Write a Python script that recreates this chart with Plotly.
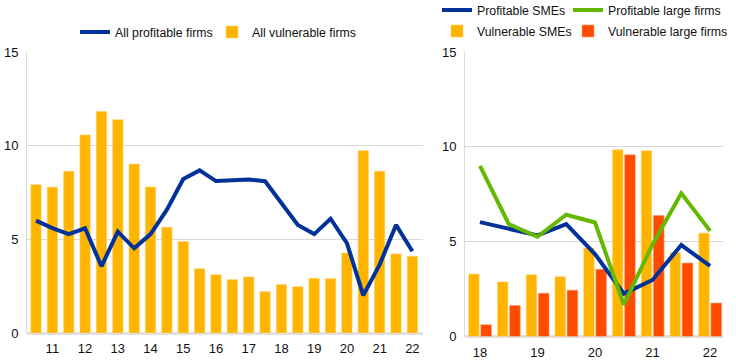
import plotly.graph_objects as go

# ---------------- data ----------------
left_tick_labels = ["11", "12", "13", "14", "15", "16", "17", "18", "19", "20", "21", "22"]
all_vulnerable = [7.92, 7.78, 8.63, 10.57, 11.83, 11.39, 9.02, 7.79, 5.64, 4.88, 3.43, 3.11,
                  2.85, 2.99, 2.21, 2.58, 2.47, 2.92, 2.90, 4.27, 9.73, 8.63, 4.22, 4.09]
all_profitable = [6.0, 5.6, 5.28, 5.59, 3.56, 5.41, 4.52, 5.28, 6.58, 8.22, 8.68, 8.11,
                  8.15, 8.2, 8.1, 6.94, 5.77, 5.28, 6.1, 4.8, 2.01, 3.65, 5.77, 4.36]

right_tick_labels = ["18", "19", "20", "21", "22"]
vulnerable_smes = [3.29, 2.88, 3.25, 3.15, 4.66, 9.84, 9.79, 4.43, 5.45]
vulnerable_large = [0.62, 1.63, 2.28, 2.44, 3.55, 9.58, 6.38, 3.87, 1.76]
profitable_smes = [6.03, 5.7, 5.33, 5.93, 4.35, 2.26, 2.98, 4.82, 3.72]
profitable_large = [9.0, 5.93, 5.26, 6.42, 6.01, 1.68, 4.85, 7.55, 5.57]

# ---------------- style ----------------
BLUE = "#003299"
YELLOW = "#FFB400"
RED = "#FF4B00"
GREEN = "#65B800"
FONT = "Arial, Liberation Sans, sans-serif"
W, H = 736, 363

left_x = list(range(1, len(all_vulnerable) + 1))
left_ticks = left_x[1::2]
right_x = list(range(1, len(vulnerable_smes) + 1))
right_ticks = right_x[0::2]

fig = go.Figure()

fig.add_trace(go.Bar(x=left_x, y=all_vulnerable, name="All vulnerable firms",
                     marker=dict(color=YELLOW, line=dict(color="#FFD066", width=0.6)),
                     width=0.63, xaxis="x", yaxis="y", legend="legend2"))
fig.add_trace(go.Scatter(x=left_x, y=all_profitable, name="All profitable firms", mode="lines",
                         line=dict(color=BLUE, width=4), xaxis="x", yaxis="y",
                         legend="legend"))

fig.add_trace(go.Bar(x=right_x, y=vulnerable_smes, name="Vulnerable SMEs",
                     marker=dict(color=YELLOW, line=dict(color="#FFD066", width=0.6)),
                     width=0.36, offset=-0.39, xaxis="x2", yaxis="y2", legend="legend4"))
fig.add_trace(go.Bar(x=right_x, y=vulnerable_large, name="Vulnerable large firms",
                     marker=dict(color=RED, line=dict(color="#FF9966", width=0.6)),
                     width=0.37, offset=0.03, xaxis="x2", yaxis="y2", legend="legend6"))
fig.add_trace(go.Scatter(x=right_x, y=profitable_smes, name="Profitable SMEs", mode="lines",
                         line=dict(color=BLUE, width=4), xaxis="x2", yaxis="y2",
                         legend="legend3"))
fig.add_trace(go.Scatter(x=right_x, y=profitable_large, name="Profitable large firms", mode="lines",
                         line=dict(color=GREEN, width=4), xaxis="x2", yaxis="y2",
                         legend="legend5"))

yax = dict(range=[0, 15], tickvals=[0, 5, 10, 15], showgrid=True, gridcolor="#d9d9d9",
           gridwidth=1.3, zeroline=True, zerolinecolor="#e0e0e0", zerolinewidth=3,
           showline=True, linecolor="#dcdcdc", linewidth=1, ticks="", fixedrange=True,
           automargin=False, ticklabelstandoff=5,
           tickfont=dict(family=FONT, size=13, color="#111"))
xax = dict(showgrid=False, zeroline=False, ticks="", automargin=False, ticklabelstandoff=6,
           fixedrange=True, tickfont=dict(family=FONT, size=13, color="#111"))


def leg(px, py):
    return dict(orientation="h", font=dict(family=FONT, size=12.3, color="#111"),
                bgcolor="rgba(0,0,0,0)", yanchor="middle", xanchor="left",
                xref="container", yref="container",
                x=(px - 40) / W, y=1 - py / H, itemwidth=30)


fig.update_layout(
    width=W, height=H,
    margin=dict(l=0, r=0, t=0, b=0, autoexpand=False),
    paper_bgcolor="white", plot_bgcolor="white",
    showlegend=True,
    barmode="overlay",
    hovermode=False,
    xaxis=dict(domain=[27 / W, 423 / W], range=[0.45, 24.65], tickvals=left_ticks,
               ticktext=left_tick_labels, anchor="y", **xax),
    yaxis=dict(domain=[1 - 333 / H, 1 - 52 / H], anchor="x", **yax),
    xaxis2=dict(domain=[465 / W, 723 / W], range=[0.48, 9.45], tickvals=right_ticks,
                ticktext=right_tick_labels, anchor="y2", **xax),
    yaxis2=dict(domain=[1 - 336.5 / H, 1 - 52 / H], anchor="x2", **yax),
    legend=leg(115, 32),
    legend2=leg(252, 32),
    legend3=leg(477, 10),
    legend4=leg(477, 31),
    legend5=leg(608, 10),
    legend6=leg(608, 31),
)

fig.write_html("out.html", config={"displayModeBar": False, "staticPlot": True},
               post_script="document.body.style.margin='0px';")
